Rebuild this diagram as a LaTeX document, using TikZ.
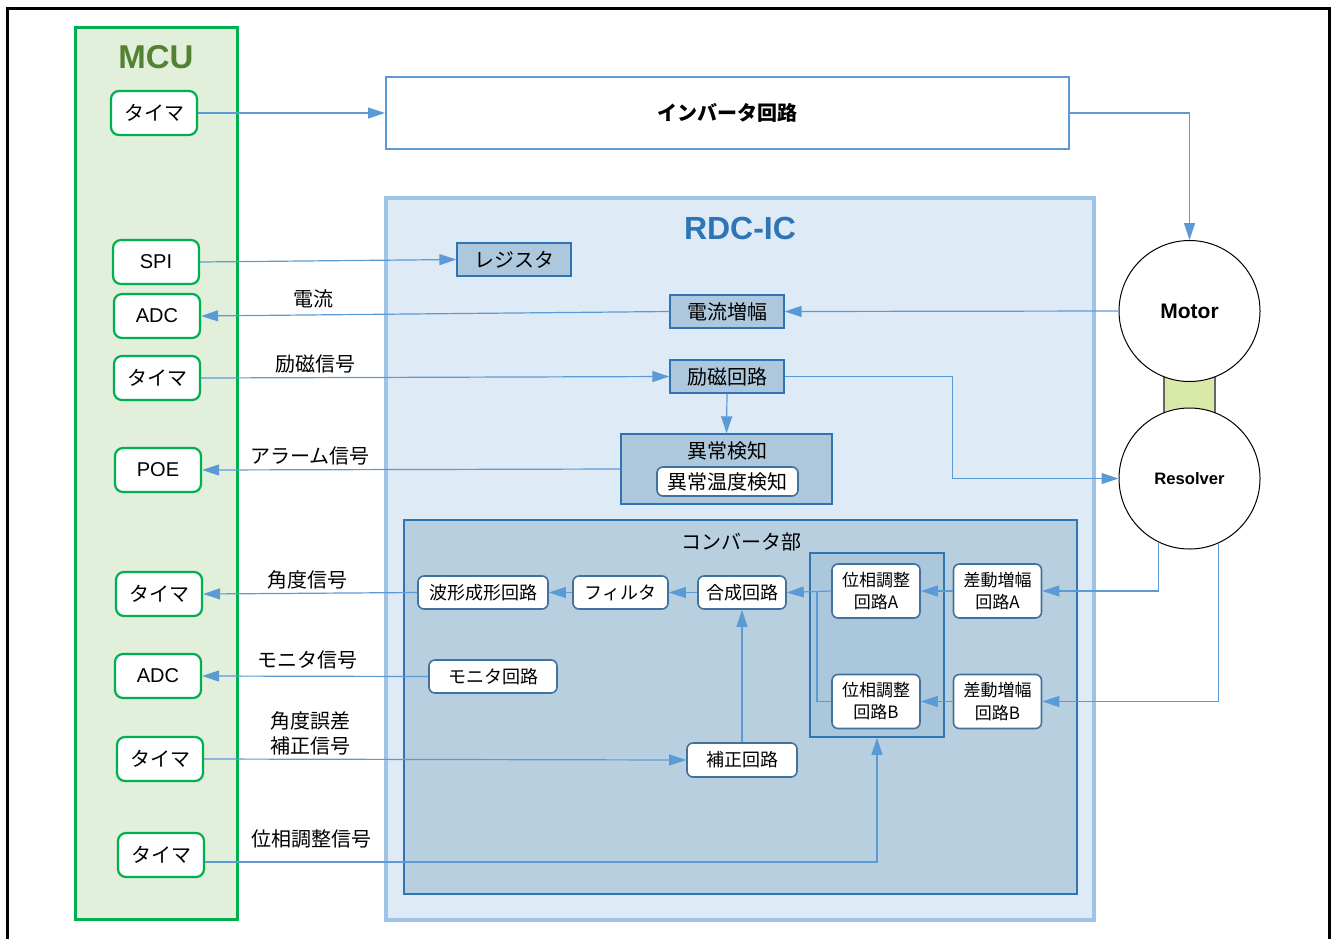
\documentclass[tikz,border=0pt]{standalone}
\usepackage{fontspec}
\setmainfont{Noto Sans CJK JP}
\newfontfamily\latin{Liberation Sans}
\usetikzlibrary{arrows.meta, positioning}
\definecolor{linkblue}{HTML}{5B9BD5}
\definecolor{mcugreen}{HTML}{00B050}
\definecolor{mcufill}{HTML}{E2EFDA}
\definecolor{mcutitle}{HTML}{548235}
\definecolor{rdcedge}{HTML}{9DC3E6}
\definecolor{rdcfill}{HTML}{DEEAF6}
\definecolor{rdctitle}{HTML}{2E75B6}
\definecolor{blkfill}{HTML}{ADC8DC}
\definecolor{blkedge}{HTML}{2E75B6}
\definecolor{cnvfill}{HTML}{B8CFDF}
\definecolor{grpfill}{HTML}{AAC7DC}
\definecolor{wedge}{HTML}{41719C}
\definecolor{shaft}{HTML}{D8E9A8}

\begin{document}
\begin{tikzpicture}[x=0.5pt, y=-0.5pt,
  link/.style={draw=linkblue, line width=0.6pt, -{Triangle[length=8.5pt, width=5.5pt]}},
  wire/.style={draw=linkblue, line width=0.6pt},
  mcupart/.style={draw=mcugreen, line width=1.1pt, rounded corners=4pt, fill=white,
    minimum width=43pt, minimum height=22pt, inner sep=0pt, font=\fontsize{10}{12}\selectfont},
  blkbox/.style={draw=blkedge, line width=0.7pt, fill=blkfill, inner sep=0pt,
    minimum width=57pt, minimum height=16.5pt, font=\fontsize{10}{12}\selectfont},
  wbox/.style={draw=wedge, line width=0.8pt, fill=white, rounded corners=3pt, inner sep=0pt,
    minimum height=16.5pt, font=\fontsize{9}{11}\selectfont},
  pbox/.style={wbox, minimum width=44pt, minimum height=27pt, align=center,
    font=\fontsize{8.5}{11}\selectfont},
  sig/.style={font=\fontsize{10}{12.5}\selectfont, align=center},
  drum/.style={circle, draw=black, line width=0.5pt, fill=white, minimum size=70.5pt, inner sep=0pt}
]
  \useasboundingbox (0,0) rectangle (1332,938);
  % 外枠
  \draw[line width=1.5pt] (7,8) rectangle (1329,980);

  % MCU
  \node[draw=mcugreen, fill=mcufill, line width=1.5pt, minimum width=81pt, minimum height=446pt] (mcu) at (156,473) {};
  \node[text=mcutitle, font=\latin\bfseries\fontsize{16.5}{18}\selectfont] (mcutxt) at (156,57) {MCU};
  \node[mcupart] (tm1) at (154,113) {タイマ};
  \node[mcupart, font=\latin\fontsize{10}{12}\selectfont] (spi) at (156,262) {SPI};
  \node[mcupart, font=\latin\fontsize{10}{12}\selectfont] (adc1) at (157,316) {ADC};
  \node[mcupart] (tm2) at (157,378) {タイマ};
  \node[mcupart, font=\latin\fontsize{10}{12}\selectfont] (poe) at (158,470) {POE};
  \node[mcupart] (tm3) at (159,594) {タイマ};
  \node[mcupart, font=\latin\fontsize{10}{12}\selectfont] (adc2) at (158,676) {ADC};
  \node[mcupart] (tm4) at (160,759) {タイマ};
  \node[mcupart] (tm5) at (161,855) {タイマ};

  % インバータ
  \node[draw=linkblue, line width=1pt, fill=white, minimum width=341.5pt, minimum height=36pt,
    font=\bfseries\fontsize{10}{12}\selectfont] (inv) at (727.5,113) {インバータ回路};

  % RDC-IC
  \node[draw=rdcedge, fill=rdcfill, line width=2pt, minimum width=354pt, minimum height=361pt] (rdc) at (740,559) {};
  \node[text=rdctitle, font=\latin\bfseries\fontsize{16}{18}\selectfont] (rdctxt) at (740,228) {RDC-IC};
  \node[blkbox] (reg) at (514,259.5) {レジスタ};
  \node[blkbox] (amp) at (727,311.5) {電流増幅};
  \node[blkbox] (exc) at (727,376.5) {励磁回路};
  \node[blkbox, minimum width=105.5pt, minimum height=35pt] (abn) at (726.5,469) {};
  \node[font=\fontsize{10}{12}\selectfont] (abntxt) at (727,451) {異常検知};
  \node[wbox, minimum width=70.5pt, minimum height=14.5pt, font=\fontsize{10}{12}\selectfont] (tmp) at (727.5,481.5) {異常温度検知};

  % コンバータ部
  \node[draw=blkedge, fill=cnvfill, line width=0.8pt, minimum width=336.5pt, minimum height=187pt] (cnv) at (740.5,707) {};
  \node[font=\fontsize{10}{12}\selectfont] (cnvtxt) at (741,542) {コンバータ部};
  \node[draw=blkedge, fill=grpfill, line width=0.8pt, minimum width=67pt, minimum height=92pt] (pgrp) at (877,645) {};
  \node[wbox, minimum width=65pt] (wav) at (483,592.5) {波形成形回路};
  \node[wbox, minimum width=47.5pt] (flt) at (620.5,592.5) {フィルタ};
  \node[wbox, minimum width=44pt] (syn) at (742,592.5) {合成回路};
  \node[wbox, minimum width=64pt] (mon) at (493,676.5) {モニタ回路};
  \node[wbox, minimum width=55pt, minimum height=17pt] (cor) at (742,760) {補正回路};
  \node[pbox] (pha) at (876,591) {位相調整\\回路A};
  \node[pbox] (phb) at (876,701.5) {位相調整\\回路B};
  \node[pbox] (dfa) at (997.5,591) {差動増幅\\回路A};
  \node[pbox] (dfb) at (997.5,701.5) {差動増幅\\回路B};

  % モータとレゾルバ
  \draw[fill=shaft, draw=black!60, line width=0.6pt] (1164,370) rectangle (1215,418);
  \node[drum, font=\latin\bfseries\fontsize{10.5}{12}\selectfont] (motor) at (1189.5,311) {Motor};
  \node[drum, font=\latin\bfseries\fontsize{8.3}{10}\selectfont] (res) at (1189.5,478.5) {Resolver};

  % 信号名
  \node[sig] (l1) at (313,299) {電流};
  \node[sig] (l2) at (315,364) {励磁信号};
  \node[sig] (l3) at (310,456) {アラーム信号};
  \node[sig] (l4) at (307,580) {角度信号};
  \node[sig] (l5) at (307,660) {モニタ信号};
  \node[sig] (l6) at (310,733) {角度誤差\\補正信号};
  \node[sig] (l7) at (311,839) {位相調整信号};

  % 接続
  \draw[link] (tm1.east) -- (inv.west);
  \draw[link] (inv.east) -| (motor.north);
  \draw[link] (spi.east) -- (reg.west);
  \draw[link] (motor.west) -- (amp.east);
  \draw[link] (amp.west) -- (adc1.east);
  \draw[link] (tm2.east) -- (exc.west);
  \draw[link] (exc.east) -- ++(168,0) |- (res.west);
  \draw[link] (exc.south) -- (abn.north);
  \draw[link] (abn.west) -- (poe.east);
  \draw[link] (res.-116) |- (dfa.east);
  \draw[link] (res.-66) |- (dfb.east);
  \draw[link] (dfa.west) -- (pha.east);
  \draw[link] (dfb.west) -- (phb.east);
  \draw[link] (pha.west) -- (syn.east);
  \draw[wire] (phb.west) -| (817,591);
  \draw[link] (syn.west) -- (flt.east);
  \draw[link] (flt.west) -- (wav.east);
  \draw[link] (wav.west) -- (tm3.east);
  \draw[link] (mon.west) -- (adc2.east);
  \draw[link] (tm4.east) -- (cor.west);
  \draw[link] (cor.north) -- (syn.south);
  \draw[link] ([yshift=-3.5pt]tm5.east) -| (pgrp.south);
\end{tikzpicture}
\end{document}
